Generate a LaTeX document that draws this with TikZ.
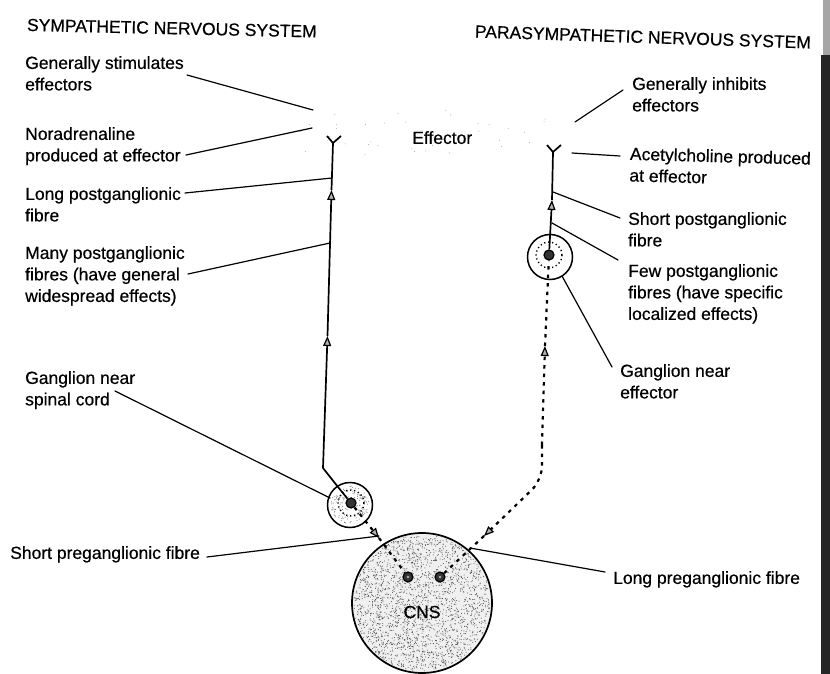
\documentclass[tikz,border=0pt]{standalone}
\usepackage{fontspec}
\setmainfont{Liberation Sans}[FakeBold=0.5]
\usetikzlibrary{arrows.meta,calc}
\begin{document}
\begin{tikzpicture}[x=1pt,y=-1pt,
  txt/.style={inner sep=0pt,anchor=north west,align=left,font=\fontsize{17.5}{21.5}\selectfont},
  lead/.style={line width=1.2pt,line cap=round},
  axon/.style={line width=1.7pt},
  pre/.style={line width=2.2pt,dash pattern=on 3.5pt off 5pt},
  fibretip/.style={-{Triangle[length=10pt,width=8pt,line width=1.2pt,fill=black!30]}},
  ganglion/.style={circle,draw,line width=1.5pt,fill=white,minimum size=45pt,inner sep=0pt},
  soma/.style={circle,draw,line width=1.2pt,fill=black!80,minimum size=10pt,inner sep=0pt},
  ring/.style={line width=1.4pt,dash pattern=on 1.2pt off 2.8pt},
  stip/.style={fill=black!70},
]
\useasboundingbox (0,0) rectangle (830,674);

% dark page edge on the right
\fill[black!35] (823,0) rectangle (830,55);
\fill[black!85] (821,55) rectangle (830,674);

% ---------- faint effector tissue ----------
\pgfmathsetseed{31}
\foreach \i in {1,...,35}{
  \pgfmathsetmacro\ex{300+250*rnd}
  \pgfmathsetmacro\ey{110+48*rnd}
  \fill[black!35] (\ex,\ey) circle (0.5);
}

% ---------- CNS ----------
\node[circle,draw,line width=1.7pt,fill=black!6,minimum size=140pt,inner sep=0pt] (cns) at (422,603) {};
\pgfmathsetseed{7}
\foreach \i in {1,...,2300}{
  \pgfmathsetmacro\a{360*rnd}
  \pgfmathsetmacro\r{68*sqrt(rnd)}
  \fill[stip] ($(cns.center)+(\a:\r)$) circle (0.5);
}
\node[soma] (cs1) at (408,577) {};
\node[soma] (cs2) at (440,577) {};
\fill[black!30] (cs1) circle (1.3);
\fill[black!30] (cs2) circle (1.3);
\node[inner sep=0pt,font=\fontsize{17.5}{21.5}\selectfont] (cnst) at (422,612) {CNS};

% ---------- ganglia ----------
\node[ganglion] (sg) at (350,505) {};
\node[ganglion] (pg) at (550,257) {};
\pgfmathsetseed{3}
\foreach \i in {1,...,140}{
  \pgfmathsetmacro\a{360*rnd}
  \pgfmathsetmacro\r{19*sqrt(rnd)}
  \fill[black!60] ($(sg.center)+(\a:\r)$) circle (0.5);
}
\node[soma] (sgs) at (351,503) {};
\node[soma] (pgs) at (549,255) {};
\draw[ring] (sgs) circle (13);
\draw[ring] (pgs) circle (13);

% ---------- sympathetic fibres ----------
\coordinate (sy)  at (333,143);
\coordinate (syl) at (327,136);
\coordinate (syr) at (341,136);
\coordinate (sa1) at (331.5,190);
\coordinate (sa2) at (327.5,336);
\coordinate (sk1) at (323,468);
\coordinate (sk2) at (338,487);
\coordinate (sp1) at (379,538);

\draw[axon,fibretip] (sgs) -- (sk2) -- (sk1) -- (sa2);
\draw[axon,fibretip] (sa2) -- (sa1);
\draw[axon] (sa1) -- (sy);
\draw[axon] (syl) -- (sy) -- (syr);
\draw[pre,fibretip] (sgs) -- (sp1);
\draw[pre] (sp1) -- (cs1);

% ---------- parasympathetic fibres ----------
\coordinate (py)  at (553,152);
\coordinate (pyl) at (547,145);
\coordinate (pyr) at (561,145);
\coordinate (pa3) at (552,200);
\coordinate (pa2) at (545,346);
\coordinate (pk1) at (542,445);
\coordinate (pk2) at (542,480);
\coordinate (pa1) at (484,536);

\draw[axon,fibretip] (pgs) -- (pa3);
\draw[axon] (pa3) -- (py);
\draw[axon] (pyl) -- (py) -- (pyr);
\draw[pre,fibretip] (pk1) -- (pa2);
\draw[pre] (pa2) -- (pgs);
\draw[pre,fibretip,rounded corners=14pt] (pk1) -- (pk2) -- (pa1);
\draw[pre] (pa1) -- (cs2);

% ---------- titles ----------
\node[txt,rotate=-1.3] (symt) at (27,18.5) {SYMPATHETIC NERVOUS SYSTEM};
\node[txt,rotate=-1.9] (part) at (475,25) {PARASYMPATHETIC NERVOUS SYSTEM};

% ---------- sympathetic labels ----------
\node[txt] (gstim) at (25,56)  {Generally stimulates\\effectors};
\node[txt] (norad) at (25,127) {Noradrenaline\\produced at effector};
\node[txt] (lpost) at (25,187) {Long postganglionic\\fibre};
\node[txt] (many)  at (25,246) {Many postganglionic\\fibres (have general\\widespread effects)};
\node[txt] (gsc)   at (25,371) {Ganglion near\\spinal cord};
\node[txt] (spre)  at (10,546) {Short preganglionic fibre};
\node[txt] (eff)   at (412,131) {Effector};

% ---------- parasympathetic labels ----------
\node[txt] (ginh)  at (632,77)  {Generally inhibits\\effectors};
\node[txt,rotate=-1.5] (acet) at (630,147) {Acetylcholine produced\\at effector};
\node[txt] (spost) at (628,212) {Short postganglionic\\fibre};
\node[txt] (few)   at (628,264) {Few postganglionic\\fibres (have specific\\localized effects)};
\node[txt] (gef)   at (620,364) {Ganglion near\\effector};
\node[txt] (lpre)  at (613,571) {Long preganglionic fibre};

% ---------- leader lines ----------
\coordinate (l1a) at (187,75);  \coordinate (l1b) at (313,110);
\coordinate (l2a) at (186,155); \coordinate (l2b) at (312,128);
\coordinate (l3a) at (185,193); \coordinate (l3b) at (332,178);
\coordinate (l4a) at (188,274); \coordinate (l4b) at (330,243);
\coordinate (l5a) at (115,391); \coordinate (l5b) at (330,498);
\coordinate (l6a) at (207,557); \coordinate (l6b) at (379,536);
\coordinate (r1a) at (623,90);  \coordinate (r1b) at (575,122);
\coordinate (r2a) at (620,156); \coordinate (r2b) at (572,153);
\coordinate (r3a) at (620,218); \coordinate (r3b) at (553,192);
\coordinate (r4a) at (618,260); \coordinate (r4b) at (552,223);
\coordinate (r5a) at (612,367); \coordinate (r5b) at (562,276);
\coordinate (r6a) at (605,572); \coordinate (r6b) at (470,548);
\foreach \s in {l1,l2,l3,l4,l5,l6,r1,r2,r3,r4,r5,r6}
  \draw[lead] (\s a) -- (\s b);
\end{tikzpicture}
\end{document}
